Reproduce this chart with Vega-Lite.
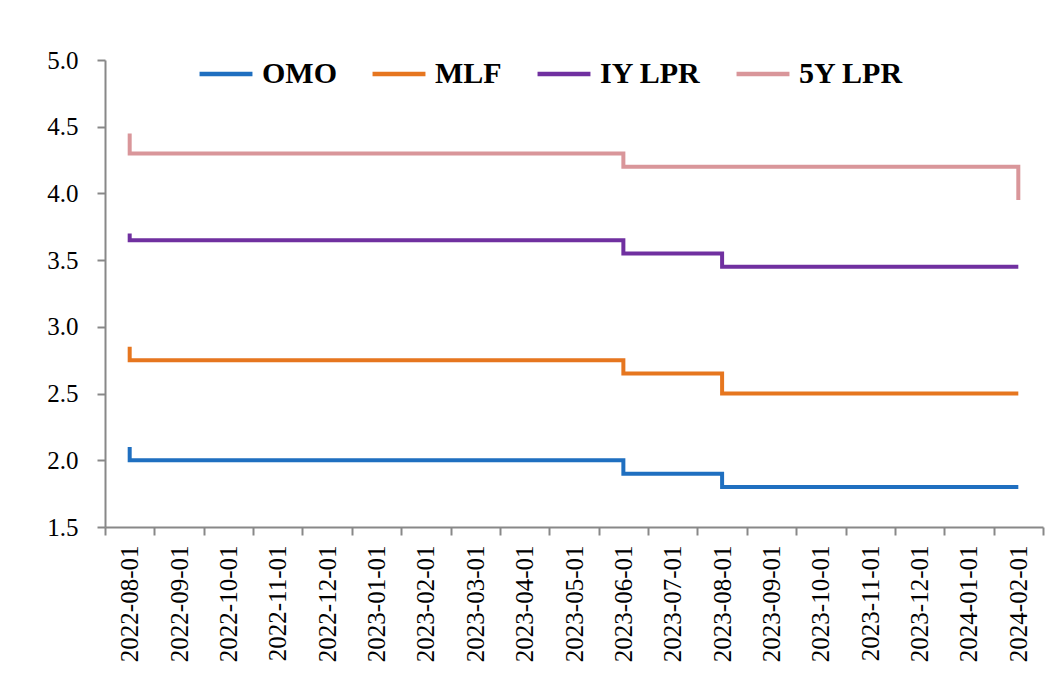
{
  "$schema": "https://vega.github.io/schema/vega-lite/v6.json",
  "autosize": {"type": "none"},
  "padding": {"left": 105, "top": 60, "right": 19, "bottom": 161},
  "width": 938,
  "height": 467,
  "background": "white",
  "config": {"view": {"stroke": null}, "font": "Liberation Serif"},
  "data": {"values": [
    {"s":"OMO","m":"2022-08-01","v":2.10,"i":0},{"s":"OMO","m":"2022-08-01","v":2.00,"i":1},{"s":"OMO","m":"2022-09-01","v":2.00,"i":2},{"s":"OMO","m":"2022-10-01","v":2.00,"i":3},{"s":"OMO","m":"2022-11-01","v":2.00,"i":4},{"s":"OMO","m":"2022-12-01","v":2.00,"i":5},{"s":"OMO","m":"2023-01-01","v":2.00,"i":6},{"s":"OMO","m":"2023-02-01","v":2.00,"i":7},{"s":"OMO","m":"2023-03-01","v":2.00,"i":8},{"s":"OMO","m":"2023-04-01","v":2.00,"i":9},{"s":"OMO","m":"2023-05-01","v":2.00,"i":10},{"s":"OMO","m":"2023-06-01","v":2.00,"i":11},{"s":"OMO","m":"2023-06-01","v":1.90,"i":12},{"s":"OMO","m":"2023-07-01","v":1.90,"i":13},{"s":"OMO","m":"2023-08-01","v":1.90,"i":14},{"s":"OMO","m":"2023-08-01","v":1.80,"i":15},{"s":"OMO","m":"2023-09-01","v":1.80,"i":16},{"s":"OMO","m":"2023-10-01","v":1.80,"i":17},{"s":"OMO","m":"2023-11-01","v":1.80,"i":18},{"s":"OMO","m":"2023-12-01","v":1.80,"i":19},{"s":"OMO","m":"2024-01-01","v":1.80,"i":20},{"s":"OMO","m":"2024-02-01","v":1.80,"i":21},
    {"s":"MLF","m":"2022-08-01","v":2.85,"i":0},{"s":"MLF","m":"2022-08-01","v":2.75,"i":1},{"s":"MLF","m":"2022-09-01","v":2.75,"i":2},{"s":"MLF","m":"2022-10-01","v":2.75,"i":3},{"s":"MLF","m":"2022-11-01","v":2.75,"i":4},{"s":"MLF","m":"2022-12-01","v":2.75,"i":5},{"s":"MLF","m":"2023-01-01","v":2.75,"i":6},{"s":"MLF","m":"2023-02-01","v":2.75,"i":7},{"s":"MLF","m":"2023-03-01","v":2.75,"i":8},{"s":"MLF","m":"2023-04-01","v":2.75,"i":9},{"s":"MLF","m":"2023-05-01","v":2.75,"i":10},{"s":"MLF","m":"2023-06-01","v":2.75,"i":11},{"s":"MLF","m":"2023-06-01","v":2.65,"i":12},{"s":"MLF","m":"2023-07-01","v":2.65,"i":13},{"s":"MLF","m":"2023-08-01","v":2.65,"i":14},{"s":"MLF","m":"2023-08-01","v":2.50,"i":15},{"s":"MLF","m":"2023-09-01","v":2.50,"i":16},{"s":"MLF","m":"2023-10-01","v":2.50,"i":17},{"s":"MLF","m":"2023-11-01","v":2.50,"i":18},{"s":"MLF","m":"2023-12-01","v":2.50,"i":19},{"s":"MLF","m":"2024-01-01","v":2.50,"i":20},{"s":"MLF","m":"2024-02-01","v":2.50,"i":21},
    {"s":"IY LPR","m":"2022-08-01","v":3.70,"i":0},{"s":"IY LPR","m":"2022-08-01","v":3.65,"i":1},{"s":"IY LPR","m":"2022-09-01","v":3.65,"i":2},{"s":"IY LPR","m":"2022-10-01","v":3.65,"i":3},{"s":"IY LPR","m":"2022-11-01","v":3.65,"i":4},{"s":"IY LPR","m":"2022-12-01","v":3.65,"i":5},{"s":"IY LPR","m":"2023-01-01","v":3.65,"i":6},{"s":"IY LPR","m":"2023-02-01","v":3.65,"i":7},{"s":"IY LPR","m":"2023-03-01","v":3.65,"i":8},{"s":"IY LPR","m":"2023-04-01","v":3.65,"i":9},{"s":"IY LPR","m":"2023-05-01","v":3.65,"i":10},{"s":"IY LPR","m":"2023-06-01","v":3.65,"i":11},{"s":"IY LPR","m":"2023-06-01","v":3.55,"i":12},{"s":"IY LPR","m":"2023-07-01","v":3.55,"i":13},{"s":"IY LPR","m":"2023-08-01","v":3.55,"i":14},{"s":"IY LPR","m":"2023-08-01","v":3.45,"i":15},{"s":"IY LPR","m":"2023-09-01","v":3.45,"i":16},{"s":"IY LPR","m":"2023-10-01","v":3.45,"i":17},{"s":"IY LPR","m":"2023-11-01","v":3.45,"i":18},{"s":"IY LPR","m":"2023-12-01","v":3.45,"i":19},{"s":"IY LPR","m":"2024-01-01","v":3.45,"i":20},{"s":"IY LPR","m":"2024-02-01","v":3.45,"i":21},
    {"s":"5Y LPR","m":"2022-08-01","v":4.45,"i":0},{"s":"5Y LPR","m":"2022-08-01","v":4.30,"i":1},{"s":"5Y LPR","m":"2022-09-01","v":4.30,"i":2},{"s":"5Y LPR","m":"2022-10-01","v":4.30,"i":3},{"s":"5Y LPR","m":"2022-11-01","v":4.30,"i":4},{"s":"5Y LPR","m":"2022-12-01","v":4.30,"i":5},{"s":"5Y LPR","m":"2023-01-01","v":4.30,"i":6},{"s":"5Y LPR","m":"2023-02-01","v":4.30,"i":7},{"s":"5Y LPR","m":"2023-03-01","v":4.30,"i":8},{"s":"5Y LPR","m":"2023-04-01","v":4.30,"i":9},{"s":"5Y LPR","m":"2023-05-01","v":4.30,"i":10},{"s":"5Y LPR","m":"2023-06-01","v":4.30,"i":11},{"s":"5Y LPR","m":"2023-06-01","v":4.20,"i":12},{"s":"5Y LPR","m":"2023-07-01","v":4.20,"i":13},{"s":"5Y LPR","m":"2023-08-01","v":4.20,"i":14},{"s":"5Y LPR","m":"2023-09-01","v":4.20,"i":15},{"s":"5Y LPR","m":"2023-10-01","v":4.20,"i":16},{"s":"5Y LPR","m":"2023-11-01","v":4.20,"i":17},{"s":"5Y LPR","m":"2023-12-01","v":4.20,"i":18},{"s":"5Y LPR","m":"2024-01-01","v":4.20,"i":19},{"s":"5Y LPR","m":"2024-02-01","v":4.20,"i":20},{"s":"5Y LPR","m":"2024-02-01","v":3.95,"i":21}
  ]},
  "mark": {"type": "line", "strokeWidth": 4, "strokeJoin": "miter", "strokeCap": "butt"},
  "encoding": {
    "x": {
      "field": "m", "type": "ordinal", "bandPosition": 0.5,
      "scale": {"type": "band", "paddingInner": 0, "paddingOuter": 0,
        "domain": ["2022-08-01","2022-09-01","2022-10-01","2022-11-01","2022-12-01","2023-01-01","2023-02-01","2023-03-01","2023-04-01","2023-05-01","2023-06-01","2023-07-01","2023-08-01","2023-09-01","2023-10-01","2023-11-01","2023-12-01","2024-01-01","2024-02-01"]},
      "axis": {"title": null, "tickBand": "extent", "labelAngle": -90, "labelFont": "Liberation Serif", "labelFontSize": 25, "labelColor": "black", "labelPadding": 10, "tickSize": 8, "tickColor": "#888888", "tickWidth": 2, "domainColor": "#888888", "domainWidth": 2, "grid": false}
    },
    "y": {
      "field": "v", "type": "quantitative",
      "scale": {"domain": [1.5, 5.0], "nice": false, "zero": false},
      "axis": {"title": null, "values": [1.5, 2.0, 2.5, 3.0, 3.5, 4.0, 4.5, 5.0], "format": ".1f", "labelFont": "Liberation Serif", "labelFontSize": 25, "labelColor": "black", "labelPadding": 19, "tickSize": 8, "tickColor": "#888888", "tickWidth": 2, "domainColor": "#888888", "domainWidth": 2, "grid": false}
    },
    "color": {
      "field": "s", "type": "nominal",
      "scale": {"domain": ["OMO", "MLF", "IY LPR", "5Y LPR"], "range": ["#1F6FC0", "#E6761F", "#7030A0", "#D9969A"]},
      "legend": {"title": null, "orient": "none", "legendX": 92, "legendY": -15, "direction": "horizontal", "symbolType": "stroke", "symbolSize": 2800, "symbolStrokeWidth": 4.5, "labelFont": "Liberation Serif", "labelFontWeight": "bold", "labelFontSize": 30, "labelColor": "black", "labelOffset": 7, "columnPadding": 26, "labelLimit": 300}
    },
    "order": {"field": "i", "type": "quantitative"}
  }
}
